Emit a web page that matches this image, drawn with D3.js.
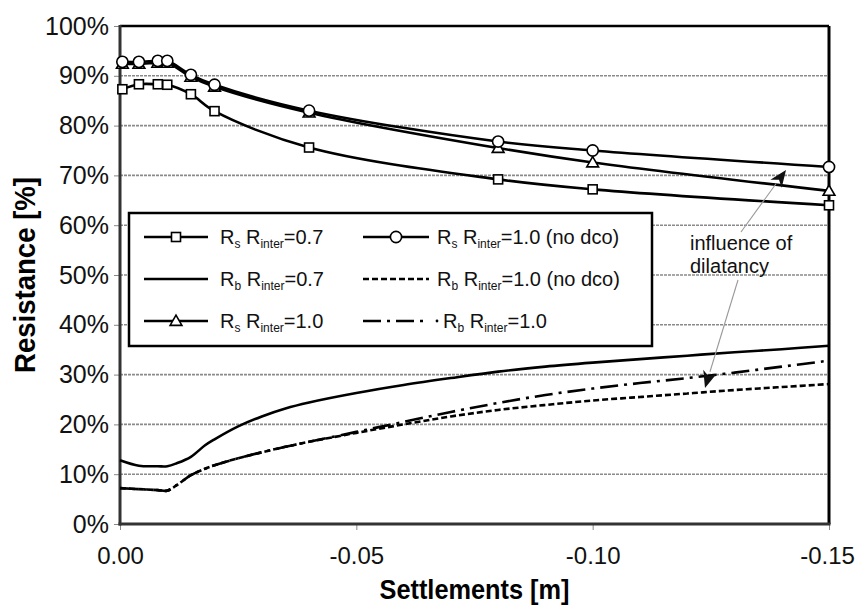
<!DOCTYPE html>
<html><head><meta charset="utf-8">
<script src="https://cdn.jsdelivr.net/npm/d3@7"></script>
<style>body{margin:0;background:#fff}svg{display:block}text{font-family:"Liberation Sans",Arial,sans-serif}</style>
</head><body><svg id="c" width="857" height="608"></svg>
<script>
// ---- data ----
const xTicks = [0, -0.05, -0.10, -0.15];
const xTickLabels = ["0.00", "-0.05", "-0.10", "-0.15"];
const yTicks = [0,10,20,30,40,50,60,70,80,90,100];

const sX = [-0.0005, -0.004, -0.008, -0.010, -0.015, -0.020, -0.040, -0.080, -0.100, -0.150];
const rsInter07 = [87.3, 88.3, 88.3, 88.2, 86.3, 82.9, 75.6, 69.2, 67.2, 64.0];
const rsInter10noDco = [92.8, 92.8, 93.0, 93.0, 90.2, 88.2, 83.0, 76.8, 75.0, 71.7];
const rsInter10 = [92.4, 92.4, 92.6, 92.6, 89.8, 87.8, 82.6, 75.5, 72.6, 66.9];

const bX = [0, -0.004, -0.008, -0.010, -0.012, -0.015, -0.018, -0.020, -0.025, -0.030, -0.035, -0.040, -0.050, -0.060, -0.070, -0.080, -0.090, -0.100, -0.110, -0.120, -0.130, -0.140, -0.150];
const rbInter07 = [12.8, 11.7, 11.6, 11.6, 12.2, 13.5, 15.8, 17.0, 19.6, 21.6, 23.2, 24.4, 26.3, 27.9, 29.3, 30.6, 31.6, 32.4, 33.1, 33.8, 34.5, 35.1, 35.8];
const rbInter10noDco = [7.2, 7.0, 6.8, 6.7, 7.8, 9.8, 11.1, 11.8, 13.2, 14.4, 15.5, 16.5, 18.3, 20.0, 21.6, 22.9, 23.9, 24.8, 25.5, 26.2, 26.9, 27.5, 28.1];
const rbInter10 = [7.2, 7.0, 6.8, 6.7, 7.8, 9.8, 11.1, 11.8, 13.2, 14.4, 15.5, 16.5, 18.5, 20.5, 22.5, 24.3, 25.9, 27.2, 28.3, 29.3, 30.4, 31.6, 32.8];

// ---- layout ----
const svg = d3.select("#c");
const L = 120, R = 829, T = 26, B = 524;
const x = d3.scaleLinear().domain([0, -0.15]).range([L, R]);
const y = d3.scaleLinear().domain([0, 100]).range([B, T]);

// gridlines
svg.append("g").selectAll("line").data(yTicks.filter(d => d > 0 && d < 100)).join("line")
  .attr("x1", L).attr("x2", R).attr("y1", d => y(d)).attr("y2", d => y(d))
  .attr("stroke", "#8a8a8a").attr("stroke-width", 1.6).attr("stroke-dasharray", "3,1");

// axes
const yAxis = d3.axisLeft(y).tickValues(yTicks).tickFormat(d => d + "%").tickSize(6).tickPadding(5);
const gy = svg.append("g").attr("transform", `translate(${L},0)`).call(yAxis);
gy.select(".domain").remove();
gy.selectAll(".tick line").attr("stroke", "#888");
gy.selectAll(".tick text").attr("font-size", 25).attr("fill", "#111");

const xAxis = d3.axisBottom(x).tickValues(xTicks).tickFormat((d, i) => xTickLabels[i]).tickSize(6).tickPadding(17);
const gx = svg.append("g").attr("transform", `translate(0,${B})`).call(xAxis);
gx.select(".domain").remove();
gx.selectAll(".tick line").attr("stroke", "#888");
gx.selectAll(".tick text").attr("font-size", 24).attr("fill", "#111");
gx.selectAll(".tick text").filter((d, i) => i === xTicks.length - 1).attr("dx", -2);

// frame
svg.append("line").attr("x1", L).attr("x2", R).attr("y1", T).attr("y2", T).attr("stroke", "#000").attr("stroke-width", 2.5);
svg.append("line").attr("x1", R).attr("x2", R).attr("y1", T).attr("y2", B).attr("stroke", "#000").attr("stroke-width", 3);
svg.append("line").attr("x1", L).attr("x2", L).attr("y1", T - 1).attr("y2", B + 1.5).attr("stroke", "#333").attr("stroke-width", 3);
svg.append("line").attr("x1", L - 1.5).attr("x2", R + 1.5).attr("y1", B).attr("y2", B).attr("stroke", "#333").attr("stroke-width", 3);

// axis titles
svg.append("text").attr("x", (L + R) / 2).attr("y", 599).attr("text-anchor", "middle")
  .attr("font-size", 27).attr("font-weight", "bold").attr("textLength", 190).attr("lengthAdjust", "spacingAndGlyphs")
  .text("Settlements [m]");
svg.append("text").attr("transform", `translate(35,${(T + B) / 2}) rotate(-90)`).attr("text-anchor", "middle")
  .attr("font-size", 29).attr("font-weight", "bold").attr("textLength", 196).attr("lengthAdjust", "spacingAndGlyphs")
  .text("Resistance [%]");

// lines
function series(xs, ys, dash) {
  svg.append("path").datum(xs.map((v, i) => [v, ys[i]]))
    .attr("d", d3.line().x(d => x(d[0])).y(d => y(d[1])).curve(d3.curveCatmullRom.alpha(0.5)))
    .attr("fill", "none").attr("stroke", "#000").attr("stroke-width", 2.6)
    .attr("stroke-dasharray", dash || null);
}
series(bX, rbInter07);
series(bX, rbInter10noDco, "6,3");
series(bX, rbInter10, "18,6,3,6");
series(sX, rsInter07);
series(sX, rsInter10);
series(sX, rsInter10noDco);

const tri = d3.symbol().type(d3.symbolTriangle).size(60);
function markers(xs, ys, kind) {
  const g = svg.append("g");
  xs.forEach((v, i) => drawMarker(g, x(v), y(ys[i]), kind));
}
function drawMarker(g, cx, cy, kind) {
  if (kind === "sq") g.append("rect").attr("x", cx - 4.5).attr("y", cy - 4.5).attr("width", 9).attr("height", 9)
    .attr("fill", "#fff").attr("stroke", "#000").attr("stroke-width", 1.6);
  else if (kind === "ci") g.append("circle").attr("cx", cx).attr("cy", cy).attr("r", 5.6)
    .attr("fill", "#fff").attr("stroke", "#000").attr("stroke-width", 1.6);
  else g.append("path").attr("d", tri).attr("transform", `translate(${cx},${cy + 1})`)
    .attr("fill", "#fff").attr("stroke", "#000").attr("stroke-width", 1.6);
}
markers(sX, rsInter10, "tr");
markers(sX, rsInter07, "sq");
markers(sX, rsInter10noDco, "ci");

// legend
const lg = svg.append("g");
lg.append("rect").attr("x", 129).attr("y", 213).attr("width", 523).attr("height", 133)
  .attr("fill", "#fff").attr("stroke", "#000").attr("stroke-width", 2.5);
const legendItems = [
  {c: 0, r: 0, sub1: "s", val: "=0.7", kind: "sq"},
  {c: 1, r: 0, sub1: "s", val: "=1.0 (no dco)", kind: "ci"},
  {c: 0, r: 1, sub1: "b", val: "=0.7"},
  {c: 1, r: 1, sub1: "b", val: "=1.0 (no dco)", dash: "6,3"},
  {c: 0, r: 2, sub1: "s", val: "=1.0", kind: "tr"},
  {c: 1, r: 2, sub1: "b", val: "=1.0", dash: "18,6,3,6", dot: true}
];
const rowY = [237, 279, 321];
legendItems.forEach(it => {
  const x0 = it.c === 0 ? 144 : 363, x1 = it.c === 0 ? 208 : 429;
  const yy = rowY[it.r];
  lg.append("line").attr("x1", x0).attr("x2", x1).attr("y1", yy).attr("y2", yy)
    .attr("stroke", "#000").attr("stroke-width", 2.6).attr("stroke-dasharray", it.dash || null);
  if (it.kind) drawMarker(lg, (x0 + x1) / 2, yy, it.kind);
  let tx = it.c === 0 ? 220 : 437;
  if (it.dot) {
    lg.append("circle").attr("cx", 437).attr("cy", yy).attr("r", 1.4).attr("fill", "#000");
    tx = 443;
  }
  const t = lg.append("text").attr("x", tx).attr("y", yy + 7).attr("font-size", 20).attr("fill", "#111");
  t.append("tspan").text("R");
  t.append("tspan").attr("font-size", 12).attr("dy", 4).text(it.sub1);
  t.append("tspan").attr("dy", -4).text(" R");
  t.append("tspan").attr("font-size", 12).attr("dy", 4).text("inter");
  t.append("tspan").attr("dy", -4).text(it.val);
});

// annotation
svg.append("text").attr("x", 690).attr("y", 250).attr("font-size", 20).attr("fill", "#111").text("influence of");
svg.append("text").attr("x", 690).attr("y", 273).attr("font-size", 20).attr("fill", "#111").text("dilatancy");
function arrow(x1, y1, x2, y2) {
  const a = Math.atan2(y2 - y1, x2 - x1), len = 17, w = 7;
  const bx = x2 - len * Math.cos(a), by = y2 - len * Math.sin(a);
  svg.append("line").attr("x1", x1).attr("y1", y1).attr("x2", bx).attr("y2", by)
    .attr("stroke", "#999").attr("stroke-width", 1.1);
  const px = -Math.sin(a) * w, py = Math.cos(a) * w;
  const nx = x2 - len * 0.7 * Math.cos(a), ny = y2 - len * 0.7 * Math.sin(a);
  svg.append("path").attr("d", `M${x2},${y2} L${bx + px},${by + py} L${nx},${ny} L${bx - px},${by - py} Z`).attr("fill", "#111");
}
arrow(741, 232, 786, 170);
arrow(738, 280, 705, 388);
</script></body></html>
